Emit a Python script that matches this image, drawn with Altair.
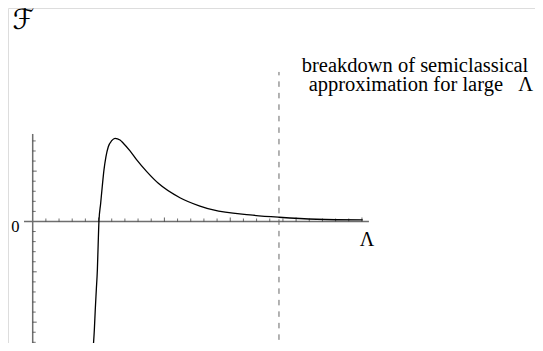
import altair as alt
import pandas as pd

# Curve F(Lambda) (abstract units: 1 x-tick, 1 y-tick)
lam = [4.60, 4.68, 4.75, 4.83, 4.91, 4.97, 5.03, 5.16, 5.28, 5.41, 5.56, 5.74,
       6.00, 6.25, 6.63, 6.88, 7.39, 7.90, 8.66, 9.54, 11.18, 12.70, 13.71,
       16.50, 18.70, 21.56, 25.06]
F = [-12.46, -10.77, -8.79, -6.80, -4.82, -2.33, 0.0, 1.79, 3.45, 5.10, 6.42,
     7.42, 8.02, 8.26, 8.09, 7.77, 7.01, 6.11, 4.95, 3.79, 2.36, 1.53, 1.14,
     0.65, 0.42, 0.22, 0.15]

breakdown_lam = [18.70]
x_ticks_minor = [1, 2, 3, 4, 6, 7, 8, 9, 11, 12, 13, 14, 16, 17, 18, 19, 21, 22, 23, 24]
x_ticks_major = [5, 10, 15, 20, 25]
y_ticks_minor = [-12, -11, -9, -8, -7, -6, -4, -3, -2, -1, 1, 2, 3, 4, 6, 7, 8]
y_ticks_major = [-10, -5, 5]

NB = "\u00a0"
labels_text = ["ℱ", "0", "Λ", "breakdown of semiclassical",
               "approximation for large" + NB * 3 + "Λ"]
labels_x = [-0.70, -1.00, 25.38, 29.03, 29.48]
labels_y = [19.12, -1.04, -2.48, 14.85, 13.00]

xs = alt.Scale(domain=[-1.875, 38.14], nice=False, zero=False)
ys = alt.Scale(domain=[-12.07, 21.20], nice=False, zero=False)

curve_df = pd.DataFrame({"lam": lam, "F": F})
xaxis_df = pd.DataFrame({"x": [-0.66], "x2": [25.53], "y": [0.0]})
yaxis_df = pd.DataFrame({"x": [0.0], "y": [-12.6], "y2": [8.69]})
dash_df = pd.DataFrame({"x": breakdown_lam, "y": [-12.9], "y2": [14.85]})

X = lambda f: alt.X(f, type="quantitative", scale=xs, axis=None)
Y = lambda f: alt.Y(f, type="quantitative", scale=ys, axis=None)

x_axis = alt.Chart(xaxis_df).mark_rule(color="#6e6e6e", strokeWidth=1.5).encode(
    x=X("x"), x2="x2", y=Y("y"))
y_axis = alt.Chart(yaxis_df).mark_rule(color="#6e6e6e", strokeWidth=1.5).encode(
    x=X("x"), y=Y("y"), y2="y2")

xt_minor = alt.Chart(pd.DataFrame({"t": x_ticks_minor, "z": 0.0})).mark_tick(
    orient="vertical", size=3, thickness=1, color="#333", yOffset=-1.5).encode(x=X("t"), y=Y("z"))
xt_major = alt.Chart(pd.DataFrame({"t": x_ticks_major, "z": 0.0})).mark_tick(
    orient="vertical", size=4, thickness=1, color="#222", yOffset=-2).encode(x=X("t"), y=Y("z"))
yt_minor = alt.Chart(pd.DataFrame({"t": y_ticks_minor, "z": 0.0})).mark_tick(
    orient="horizontal", size=3, thickness=1, color="#333", xOffset=1.5).encode(x=X("z"), y=Y("t"))
yt_major = alt.Chart(pd.DataFrame({"t": y_ticks_major, "z": 0.0})).mark_tick(
    orient="horizontal", size=4, thickness=1, color="#222", xOffset=2).encode(x=X("z"), y=Y("t"))

dash = alt.Chart(dash_df).mark_rule(color="#666", strokeWidth=1, strokeDash=[5.5, 6]).encode(
    x=X("x"), y=Y("y"), y2="y2")

curve = alt.Chart(curve_df).mark_line(color="black", strokeWidth=1.3, interpolate="monotone").encode(
    x=X("lam"), y=Y("F"), order="lam:Q")

lab = pd.DataFrame({"text": labels_text, "x": labels_x, "y": labels_y})
t_F = alt.Chart(lab.iloc[[0]]).mark_text(font="DejaVu Sans", fontSize=28,
                                          align="center", baseline="alphabetic", color="black").encode(
    x=X("x"), y=Y("y"), text="text")
t_0 = alt.Chart(lab.iloc[[1]]).mark_text(font="Liberation Serif", fontSize=16.5, align="right",
                                          baseline="alphabetic", color="black").encode(
    x=X("x"), y=Y("y"), text="text")
t_L = alt.Chart(lab.iloc[[2]]).mark_text(font="Liberation Serif", fontSize=20, align="center",
                                          baseline="alphabetic", color="black").encode(
    x=X("x"), y=Y("y"), text="text")
t_note = alt.Chart(lab.iloc[[3, 4]]).mark_text(font="Liberation Serif", fontSize=20.5, align="center",
                                               baseline="alphabetic", color="black").encode(
    x=X("x"), y=Y("y"), text="text")

chart = alt.layer(x_axis, y_axis, xt_minor, xt_major, yt_minor, yt_major, dash, curve,
                  t_F, t_0, t_L, t_note).properties(
    width=527, height=335, padding=0,
    autosize=alt.AutoSizeParams(type="none"),
).configure_view(stroke=None).configure(background="white")

chart.save("out.html", embed_options={"renderer": "svg", "actions": False})
